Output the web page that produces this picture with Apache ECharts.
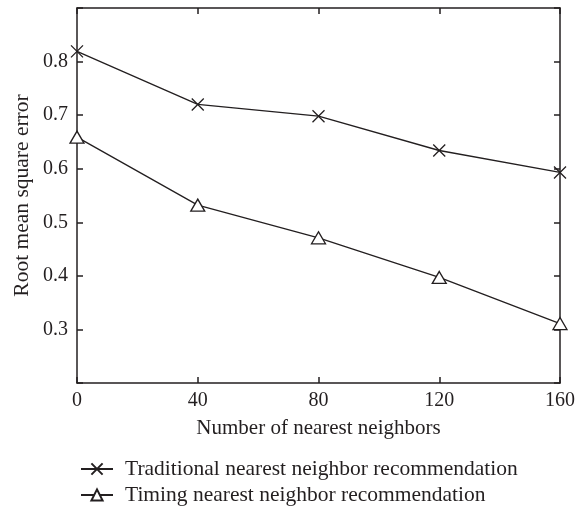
<!DOCTYPE html>
<html><head><meta charset="utf-8">
<script src="https://cdn.jsdelivr.net/npm/echarts@6/dist/echarts.min.js"></script>
<style>html,body{margin:0;padding:0;background:#fff}#c{width:584px;height:510px}</style>
</head><body><div id="c"></div>
<script>
var neighbors = [0, 40, 80, 120, 160];
var traditional = [0.819, 0.720, 0.698, 0.634, 0.593];
var timing = [0.659, 0.532, 0.471, 0.397, 0.311];
var seriesNames = ['Traditional nearest neighbor recommendation', 'Timing nearest neighbor recommendation'];
var xTitle = 'Number of nearest neighbors';
var yTitle = 'Root mean square error';

var FONT = '"Liberation Serif", "DejaVu Serif", serif';
var INK = '#231f20';
var crossPath = 'path://M0,0L10,10M10,0L0,10';

function pairs(xs, ys){ return xs.map(function(x,i){return [x, ys[i]];}); }

var chart = echarts.init(document.getElementById('c'), null, {renderer:'canvas'});
var axisLine = {show:true, onZero:false, lineStyle:{color:INK, width:1.5}};
var tick = {show:true, inside:true, length:6, lineStyle:{color:INK, width:1.5}};
chart.setOption({
  animation:false,
  backgroundColor:'#fff',
  grid:{left:77, right:24, top:8, bottom:127, containLabel:false},
  legend:{
    orient:'vertical', left:80, top:458, padding:0, itemGap:4, itemWidth:32, itemHeight:14,
    textStyle:{fontFamily:FONT, fontSize:21.5, color:INK, padding:[0,0,0,7]},
    data:seriesNames
  },
  xAxis:[{
    type:'value', min:0, max:160, interval:40, position:'bottom',
    name:xTitle, nameLocation:'middle', nameGap:35,
    nameTextStyle:{fontFamily:FONT, fontSize:21, color:INK},
    axisLine:axisLine, axisTick:tick, splitLine:{show:false},
    axisLabel:{fontFamily:FONT, fontSize:20, color:INK, margin:8}
  },{
    type:'value', min:0, max:160, interval:40, position:'top',
    axisLine:axisLine, axisTick:tick, splitLine:{show:false}, axisLabel:{show:false}
  }],
  yAxis:[{
    type:'value', min:0.2, max:0.9, interval:0.1, position:'left',
    name:yTitle, nameLocation:'middle', nameGap:44, nameMoveOverlap:false,
    nameTextStyle:{fontFamily:FONT, fontSize:21.5, color:INK},
    axisLine:axisLine, axisTick:tick, splitLine:{show:false},
    axisLabel:{fontFamily:FONT, fontSize:20, color:INK, margin:9,
      formatter:function(v){ var r=Math.round(v*10)/10; return (r<=0.2||r>=0.9)?'':r.toFixed(1);} }
  },{
    type:'value', min:0.2, max:0.9, interval:0.1, position:'right',
    axisLine:axisLine, axisTick:tick, splitLine:{show:false}, axisLabel:{show:false}
  }],
  series:[{
    name:seriesNames[0], type:'line', data:pairs(neighbors, traditional),
    symbol:crossPath, symbolSize:12, showSymbol:true,
    lineStyle:{color:INK, width:1.3},
    itemStyle:{color:'none', borderColor:INK, borderWidth:1.3}
  },{
    name:seriesNames[1], type:'line', data:pairs(neighbors, timing),
    symbol:'triangle', symbolSize:[14,12], showSymbol:true,
    lineStyle:{color:INK, width:1.3},
    itemStyle:{color:'#fff', borderColor:INK, borderWidth:1.3}
  }]
});
</script></body></html>
